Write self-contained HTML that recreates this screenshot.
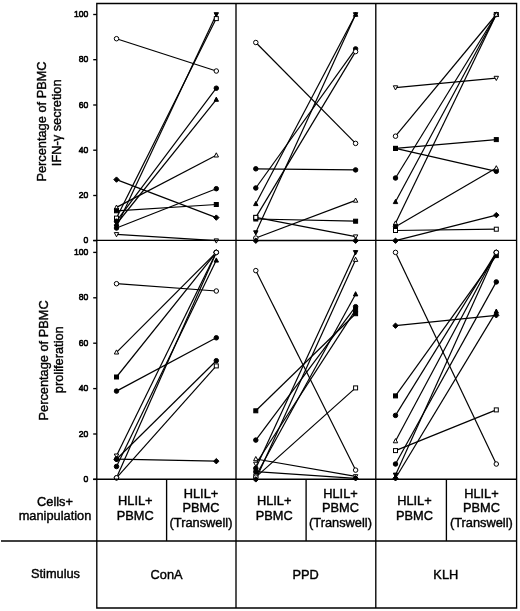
<!DOCTYPE html>
<html><head><meta charset="utf-8"><style>
html,body{margin:0;padding:0;background:#fff;width:520px;height:611px;overflow:hidden;font-family:"Liberation Sans",sans-serif;}
svg{display:block;will-change:transform;}
</style></head><body>
<svg width="520" height="611" viewBox="0 0 520 611">
<rect width="520" height="611" fill="white"/>
<g>
<g fill="none" stroke="black" stroke-width="1.2"><line x1="116.5" y1="38.7" x2="216.3" y2="71.0"/><line x1="116.5" y1="179.6" x2="216.3" y2="217.6"/><line x1="116.5" y1="207.4" x2="216.3" y2="155.2"/><line x1="116.5" y1="210.8" x2="216.3" y2="204.5"/><line x1="116.5" y1="218.1" x2="216.3" y2="18.6"/><line x1="116.5" y1="221.2" x2="216.3" y2="88.2"/><line x1="116.5" y1="224.0" x2="216.3" y2="99.6"/><line x1="116.5" y1="226.7" x2="216.3" y2="14.5"/><line x1="116.5" y1="228.0" x2="216.3" y2="188.7"/><line x1="116.5" y1="234.4" x2="216.3" y2="240.7"/><line x1="255.8" y1="42.5" x2="355.6" y2="143.4"/><line x1="255.8" y1="168.8" x2="355.6" y2="169.9"/><line x1="255.8" y1="188.0" x2="355.6" y2="48.9"/><line x1="255.8" y1="203.8" x2="355.6" y2="14.5"/><line x1="255.8" y1="217.4" x2="355.6" y2="51.6"/><line x1="255.8" y1="219.0" x2="355.6" y2="221.2"/><line x1="255.8" y1="217.4" x2="355.6" y2="236.6"/><line x1="255.8" y1="232.6" x2="355.6" y2="14.5"/><line x1="255.8" y1="238.0" x2="355.6" y2="200.4"/><line x1="255.8" y1="240.7" x2="355.6" y2="240.7"/><line x1="395.5" y1="87.6" x2="496.3" y2="78.1"/><line x1="395.5" y1="136.2" x2="496.3" y2="14.5"/><line x1="395.5" y1="148.4" x2="496.3" y2="139.6"/><line x1="395.5" y1="148.4" x2="496.3" y2="171.3"/><line x1="395.5" y1="178.0" x2="496.3" y2="14.5"/><line x1="395.5" y1="201.8" x2="496.3" y2="14.5"/><line x1="395.5" y1="223.3" x2="496.3" y2="14.5"/><line x1="395.5" y1="226.7" x2="496.3" y2="168.1"/><line x1="395.5" y1="230.5" x2="496.3" y2="229.2"/><line x1="395.5" y1="240.7" x2="496.3" y2="215.1"/><line x1="116.5" y1="283.7" x2="216.3" y2="291.0"/><line x1="116.5" y1="352.3" x2="216.3" y2="252.4"/><line x1="116.5" y1="377.0" x2="216.3" y2="252.4"/><line x1="116.5" y1="391.1" x2="216.3" y2="337.8"/><line x1="116.5" y1="455.8" x2="216.3" y2="252.4"/><line x1="116.5" y1="459.2" x2="216.3" y2="461.2"/><line x1="116.5" y1="459.2" x2="216.3" y2="360.7"/><line x1="116.5" y1="466.5" x2="216.3" y2="260.3"/><line x1="116.5" y1="477.8" x2="216.3" y2="252.4"/><line x1="116.5" y1="477.8" x2="216.3" y2="365.9"/><line x1="255.8" y1="270.6" x2="355.6" y2="470.1"/><line x1="255.8" y1="410.8" x2="355.6" y2="313.7"/><line x1="255.8" y1="440.1" x2="355.6" y2="306.7"/><line x1="255.8" y1="459.0" x2="355.6" y2="476.4"/><line x1="255.8" y1="464.0" x2="355.6" y2="309.8"/><line x1="255.8" y1="468.3" x2="355.6" y2="252.4"/><line x1="255.8" y1="471.7" x2="355.6" y2="478.3"/><line x1="255.8" y1="476.0" x2="355.6" y2="294.2"/><line x1="255.8" y1="477.1" x2="355.6" y2="387.9"/><line x1="255.8" y1="479.4" x2="355.6" y2="259.7"/><line x1="395.5" y1="252.4" x2="496.3" y2="464.0"/><line x1="395.5" y1="325.7" x2="496.3" y2="315.3"/><line x1="395.5" y1="395.9" x2="496.3" y2="255.6"/><line x1="395.5" y1="415.4" x2="496.3" y2="252.4"/><line x1="395.5" y1="441.0" x2="496.3" y2="252.4"/><line x1="395.5" y1="450.6" x2="496.3" y2="409.9"/><line x1="395.5" y1="464.0" x2="496.3" y2="281.9"/><line x1="395.5" y1="474.9" x2="496.3" y2="252.4"/><line x1="395.5" y1="478.3" x2="496.3" y2="311.4"/></g>
<g><circle cx="116.5" cy="38.7" r="2.25" fill="white" stroke="black" stroke-width="1.0"/><circle cx="216.3" cy="71.0" r="2.25" fill="white" stroke="black" stroke-width="1.0"/><path d="M116.5,176.9L119.2,179.6L116.5,182.3L113.8,179.6Z" fill="black" stroke="black" stroke-width="1.0"/><path d="M216.3,214.9L219.0,217.6L216.3,220.3L213.6,217.6Z" fill="black" stroke="black" stroke-width="1.0"/><path d="M116.5,205.0L118.7,209.2L114.3,209.2Z" fill="white" stroke="black" stroke-width="1.0"/><path d="M216.3,152.8L218.5,157.0L214.1,157.0Z" fill="white" stroke="black" stroke-width="1.0"/><rect x="114.5" y="208.8" width="4.0" height="4.0" fill="black" stroke="black" stroke-width="1.0"/><rect x="214.3" y="202.5" width="4.0" height="4.0" fill="black" stroke="black" stroke-width="1.0"/><rect x="114.5" y="216.1" width="4.0" height="4.0" fill="white" stroke="black" stroke-width="1.0"/><rect x="214.3" y="16.6" width="4.0" height="4.0" fill="white" stroke="black" stroke-width="1.0"/><circle cx="116.5" cy="221.2" r="2.25" fill="black" stroke="black" stroke-width="1.0"/><circle cx="216.3" cy="88.2" r="2.25" fill="black" stroke="black" stroke-width="1.0"/><path d="M116.5,221.5L118.7,225.7L114.3,225.7Z" fill="black" stroke="black" stroke-width="1.0"/><path d="M216.3,97.1L218.5,101.3L214.1,101.3Z" fill="black" stroke="black" stroke-width="1.0"/><path d="M116.5,229.1L118.7,224.9L114.3,224.9Z" fill="black" stroke="black" stroke-width="1.0"/><path d="M216.3,16.9L218.5,12.7L214.1,12.7Z" fill="black" stroke="black" stroke-width="1.0"/><circle cx="116.5" cy="228.0" r="2.25" fill="black" stroke="black" stroke-width="1.0"/><circle cx="216.3" cy="188.7" r="2.25" fill="black" stroke="black" stroke-width="1.0"/><path d="M116.5,236.8L118.7,232.6L114.3,232.6Z" fill="white" stroke="black" stroke-width="1.0"/><path d="M216.3,243.1L218.5,238.9L214.1,238.9Z" fill="white" stroke="black" stroke-width="1.0"/><circle cx="255.8" cy="42.5" r="2.25" fill="white" stroke="black" stroke-width="1.0"/><circle cx="355.6" cy="143.4" r="2.25" fill="white" stroke="black" stroke-width="1.0"/><circle cx="255.8" cy="168.8" r="2.25" fill="black" stroke="black" stroke-width="1.0"/><circle cx="355.6" cy="169.9" r="2.25" fill="black" stroke="black" stroke-width="1.0"/><circle cx="255.8" cy="188.0" r="2.25" fill="black" stroke="black" stroke-width="1.0"/><circle cx="355.6" cy="48.9" r="2.25" fill="black" stroke="black" stroke-width="1.0"/><path d="M255.8,201.4L258.0,205.6L253.6,205.6Z" fill="black" stroke="black" stroke-width="1.0"/><path d="M355.6,12.1L357.8,16.3L353.4,16.3Z" fill="black" stroke="black" stroke-width="1.0"/><rect x="253.8" y="215.4" width="4.0" height="4.0" fill="white" stroke="black" stroke-width="1.0"/><circle cx="355.6" cy="51.6" r="2.25" fill="white" stroke="black" stroke-width="1.0"/><rect x="253.8" y="217.0" width="4.0" height="4.0" fill="black" stroke="black" stroke-width="1.0"/><rect x="353.6" y="219.2" width="4.0" height="4.0" fill="black" stroke="black" stroke-width="1.0"/><rect x="253.8" y="215.4" width="4.0" height="4.0" fill="white" stroke="black" stroke-width="1.0"/><path d="M355.6,239.0L357.8,234.9L353.4,234.9Z" fill="white" stroke="black" stroke-width="1.0"/><path d="M255.8,235.0L258.0,230.8L253.6,230.8Z" fill="black" stroke="black" stroke-width="1.0"/><path d="M355.6,16.9L357.8,12.7L353.4,12.7Z" fill="black" stroke="black" stroke-width="1.0"/><circle cx="255.8" cy="238.0" r="2.25" fill="white" stroke="black" stroke-width="1.0"/><path d="M355.6,198.0L357.8,202.2L353.4,202.2Z" fill="white" stroke="black" stroke-width="1.0"/><path d="M255.8,238.0L258.5,240.7L255.8,243.4L253.1,240.7Z" fill="black" stroke="black" stroke-width="1.0"/><path d="M355.6,238.0L358.3,240.7L355.6,243.4L352.9,240.7Z" fill="black" stroke="black" stroke-width="1.0"/><path d="M395.5,90.0L397.7,85.8L393.3,85.8Z" fill="white" stroke="black" stroke-width="1.0"/><path d="M496.3,80.5L498.5,76.3L494.1,76.3Z" fill="white" stroke="black" stroke-width="1.0"/><circle cx="395.5" cy="136.2" r="2.25" fill="white" stroke="black" stroke-width="1.0"/><circle cx="496.3" cy="14.5" r="2.25" fill="white" stroke="black" stroke-width="1.0"/><rect x="393.5" y="146.4" width="4.0" height="4.0" fill="black" stroke="black" stroke-width="1.0"/><rect x="494.3" y="137.6" width="4.0" height="4.0" fill="black" stroke="black" stroke-width="1.0"/><rect x="393.5" y="146.4" width="4.0" height="4.0" fill="black" stroke="black" stroke-width="1.0"/><circle cx="496.3" cy="171.3" r="2.25" fill="black" stroke="black" stroke-width="1.0"/><circle cx="395.5" cy="178.0" r="2.25" fill="black" stroke="black" stroke-width="1.0"/><rect x="494.3" y="12.5" width="4.0" height="4.0" fill="white" stroke="black" stroke-width="1.0"/><path d="M395.5,199.4L397.7,203.6L393.3,203.6Z" fill="black" stroke="black" stroke-width="1.0"/><path d="M496.3,12.1L498.5,16.3L494.1,16.3Z" fill="black" stroke="black" stroke-width="1.0"/><path d="M395.5,220.9L397.7,225.0L393.3,225.0Z" fill="white" stroke="black" stroke-width="1.0"/><path d="M496.3,12.1L498.5,16.3L494.1,16.3Z" fill="white" stroke="black" stroke-width="1.0"/><circle cx="395.5" cy="226.7" r="2.25" fill="black" stroke="black" stroke-width="1.0"/><path d="M496.3,165.7L498.5,169.8L494.1,169.8Z" fill="white" stroke="black" stroke-width="1.0"/><rect x="393.5" y="228.5" width="4.0" height="4.0" fill="white" stroke="black" stroke-width="1.0"/><rect x="494.3" y="227.2" width="4.0" height="4.0" fill="white" stroke="black" stroke-width="1.0"/><path d="M395.5,238.0L398.2,240.7L395.5,243.4L392.8,240.7Z" fill="black" stroke="black" stroke-width="1.0"/><path d="M496.3,212.4L499.0,215.1L496.3,217.8L493.6,215.1Z" fill="black" stroke="black" stroke-width="1.0"/><circle cx="116.5" cy="283.7" r="2.25" fill="white" stroke="black" stroke-width="1.0"/><circle cx="216.3" cy="291.0" r="2.25" fill="white" stroke="black" stroke-width="1.0"/><path d="M116.5,349.9L118.7,354.0L114.3,354.0Z" fill="white" stroke="black" stroke-width="1.0"/><circle cx="216.3" cy="252.4" r="2.25" fill="white" stroke="black" stroke-width="1.0"/><rect x="114.5" y="375.0" width="4.0" height="4.0" fill="black" stroke="black" stroke-width="1.0"/><circle cx="216.3" cy="252.4" r="2.25" fill="white" stroke="black" stroke-width="1.0"/><circle cx="116.5" cy="391.1" r="2.25" fill="black" stroke="black" stroke-width="1.0"/><circle cx="216.3" cy="337.8" r="2.25" fill="black" stroke="black" stroke-width="1.0"/><path d="M116.5,458.2L118.7,454.0L114.3,454.0Z" fill="white" stroke="black" stroke-width="1.0"/><circle cx="216.3" cy="252.4" r="2.25" fill="white" stroke="black" stroke-width="1.0"/><path d="M116.5,456.5L119.2,459.2L116.5,461.9L113.8,459.2Z" fill="black" stroke="black" stroke-width="1.0"/><path d="M216.3,458.5L219.0,461.2L216.3,463.9L213.6,461.2Z" fill="black" stroke="black" stroke-width="1.0"/><circle cx="116.5" cy="459.2" r="2.25" fill="black" stroke="black" stroke-width="1.0"/><circle cx="216.3" cy="360.7" r="2.25" fill="black" stroke="black" stroke-width="1.0"/><circle cx="116.5" cy="466.5" r="2.25" fill="black" stroke="black" stroke-width="1.0"/><path d="M216.3,257.9L218.5,262.1L214.1,262.1Z" fill="black" stroke="black" stroke-width="1.0"/><circle cx="116.5" cy="477.8" r="2.25" fill="white" stroke="black" stroke-width="1.0"/><circle cx="216.3" cy="252.4" r="2.25" fill="white" stroke="black" stroke-width="1.0"/><circle cx="116.5" cy="477.8" r="2.25" fill="white" stroke="black" stroke-width="1.0"/><rect x="214.3" y="363.9" width="4.0" height="4.0" fill="white" stroke="black" stroke-width="1.0"/><circle cx="255.8" cy="270.6" r="2.25" fill="white" stroke="black" stroke-width="1.0"/><circle cx="355.6" cy="470.1" r="2.25" fill="white" stroke="black" stroke-width="1.0"/><rect x="253.8" y="408.8" width="4.0" height="4.0" fill="black" stroke="black" stroke-width="1.0"/><rect x="353.6" y="311.7" width="4.0" height="4.0" fill="black" stroke="black" stroke-width="1.0"/><circle cx="255.8" cy="440.1" r="2.25" fill="black" stroke="black" stroke-width="1.0"/><circle cx="355.6" cy="306.7" r="2.25" fill="black" stroke="black" stroke-width="1.0"/><path d="M255.8,456.5L258.0,460.7L253.6,460.7Z" fill="white" stroke="black" stroke-width="1.0"/><path d="M355.6,478.9L357.8,474.7L353.4,474.7Z" fill="white" stroke="black" stroke-width="1.0"/><path d="M255.8,466.4L258.0,462.2L253.6,462.2Z" fill="white" stroke="black" stroke-width="1.0"/><rect x="353.6" y="307.8" width="4.0" height="4.0" fill="black" stroke="black" stroke-width="1.0"/><circle cx="255.8" cy="468.3" r="2.25" fill="black" stroke="black" stroke-width="1.0"/><path d="M355.6,254.8L357.8,250.6L353.4,250.6Z" fill="black" stroke="black" stroke-width="1.0"/><circle cx="255.8" cy="471.7" r="2.25" fill="black" stroke="black" stroke-width="1.0"/><path d="M355.6,475.6L358.3,478.3L355.6,481.0L352.9,478.3Z" fill="black" stroke="black" stroke-width="1.0"/><rect x="253.8" y="474.0" width="4.0" height="4.0" fill="white" stroke="black" stroke-width="1.0"/><path d="M355.6,291.7L357.8,295.9L353.4,295.9Z" fill="black" stroke="black" stroke-width="1.0"/><circle cx="255.8" cy="477.1" r="2.25" fill="white" stroke="black" stroke-width="1.0"/><rect x="353.6" y="385.9" width="4.0" height="4.0" fill="white" stroke="black" stroke-width="1.0"/><path d="M255.8,476.7L258.5,479.4L255.8,482.1L253.1,479.4Z" fill="black" stroke="black" stroke-width="1.0"/><path d="M355.6,257.2L357.8,261.4L353.4,261.4Z" fill="white" stroke="black" stroke-width="1.0"/><circle cx="395.5" cy="252.4" r="2.25" fill="white" stroke="black" stroke-width="1.0"/><circle cx="496.3" cy="464.0" r="2.25" fill="white" stroke="black" stroke-width="1.0"/><path d="M395.5,323.0L398.2,325.7L395.5,328.4L392.8,325.7Z" fill="black" stroke="black" stroke-width="1.0"/><path d="M496.3,312.6L499.0,315.3L496.3,318.0L493.6,315.3Z" fill="black" stroke="black" stroke-width="1.0"/><rect x="393.5" y="393.9" width="4.0" height="4.0" fill="black" stroke="black" stroke-width="1.0"/><rect x="494.3" y="253.6" width="4.0" height="4.0" fill="black" stroke="black" stroke-width="1.0"/><circle cx="395.5" cy="415.4" r="2.25" fill="black" stroke="black" stroke-width="1.0"/><circle cx="496.3" cy="252.4" r="2.25" fill="white" stroke="black" stroke-width="1.0"/><path d="M395.5,438.6L397.7,442.8L393.3,442.8Z" fill="white" stroke="black" stroke-width="1.0"/><circle cx="496.3" cy="252.4" r="2.25" fill="white" stroke="black" stroke-width="1.0"/><rect x="393.5" y="448.6" width="4.0" height="4.0" fill="white" stroke="black" stroke-width="1.0"/><rect x="494.3" y="407.9" width="4.0" height="4.0" fill="white" stroke="black" stroke-width="1.0"/><circle cx="395.5" cy="464.0" r="2.25" fill="black" stroke="black" stroke-width="1.0"/><circle cx="496.3" cy="281.9" r="2.25" fill="black" stroke="black" stroke-width="1.0"/><path d="M395.5,477.3L397.7,473.1L393.3,473.1Z" fill="black" stroke="black" stroke-width="1.0"/><circle cx="496.3" cy="252.4" r="2.25" fill="white" stroke="black" stroke-width="1.0"/><path d="M395.5,475.6L398.2,478.3L395.5,481.0L392.8,478.3Z" fill="black" stroke="black" stroke-width="1.0"/><path d="M496.3,309.0L498.5,313.2L494.1,313.2Z" fill="black" stroke="black" stroke-width="1.0"/></g>
<g><path d="M96.8,3.5H516.6V608.0H96.8Z" fill="none" stroke="black" stroke-width="1.35"/><line x1="236.0" y1="3.5" x2="236.0" y2="608.0" stroke="black" stroke-width="1.35"/><line x1="375.8" y1="3.5" x2="375.8" y2="608.0" stroke="black" stroke-width="1.35"/><line x1="93.2" y1="240.4" x2="516.6" y2="240.4" stroke="black" stroke-width="1.35"/><line x1="93.2" y1="479.2" x2="516.6" y2="479.2" stroke="black" stroke-width="1.35"/><line x1="1" y1="541" x2="516.6" y2="541" stroke="black" stroke-width="1.35"/><line x1="166.6" y1="479.2" x2="166.6" y2="541" stroke="black" stroke-width="1.35"/><line x1="306.1" y1="479.2" x2="306.1" y2="541" stroke="black" stroke-width="1.35"/><line x1="446.4" y1="479.2" x2="446.4" y2="541" stroke="black" stroke-width="1.35"/></g>
<g stroke="black" stroke-width="1.35"><line x1="93.2" y1="240.7" x2="96.8" y2="240.7"/><line x1="93.2" y1="479.4" x2="96.8" y2="479.4"/><line x1="93.2" y1="195.5" x2="96.8" y2="195.5"/><line x1="93.2" y1="434.0" x2="96.8" y2="434.0"/><line x1="93.2" y1="150.2" x2="96.8" y2="150.2"/><line x1="93.2" y1="388.6" x2="96.8" y2="388.6"/><line x1="93.2" y1="105.0" x2="96.8" y2="105.0"/><line x1="93.2" y1="343.2" x2="96.8" y2="343.2"/><line x1="93.2" y1="59.7" x2="96.8" y2="59.7"/><line x1="93.2" y1="297.8" x2="96.8" y2="297.8"/><line x1="93.2" y1="14.5" x2="96.8" y2="14.5"/><line x1="93.2" y1="252.4" x2="96.8" y2="252.4"/></g>
<g font-family="Liberation Sans, sans-serif" font-size="9.2" text-anchor="end" fill="#000" stroke="#000" stroke-width="0.6"><text transform="translate(88.4,243.3) scale(0.94,1.05)">0</text><text transform="translate(88.4,482.0) scale(0.94,1.05)">0</text><text transform="translate(88.4,198.1) scale(0.94,1.05)">20</text><text transform="translate(88.4,436.6) scale(0.94,1.05)">20</text><text transform="translate(88.4,152.8) scale(0.94,1.05)">40</text><text transform="translate(88.4,391.2) scale(0.94,1.05)">40</text><text transform="translate(88.4,107.6) scale(0.94,1.05)">60</text><text transform="translate(88.4,345.8) scale(0.94,1.05)">60</text><text transform="translate(88.4,62.3) scale(0.94,1.05)">80</text><text transform="translate(88.4,300.4) scale(0.94,1.05)">80</text><text transform="translate(88.4,17.1) scale(0.94,1.05)">100</text><text transform="translate(88.4,255.0) scale(0.94,1.05)">100</text></g>
<g font-family="Liberation Sans, sans-serif" fill="#000" stroke="#000" stroke-width="0.4"><text x="135.3" y="505.3" text-anchor="middle" font-size="12.8">HLIL+</text><text x="135.3" y="519.7" text-anchor="middle" font-size="12.8">PBMC</text><text x="201.0" y="497.7" text-anchor="middle" font-size="12.8">HLIL+</text><text x="201.0" y="512.4" text-anchor="middle" font-size="12.8">PBMC</text><text x="201.0" y="527.0" text-anchor="middle" font-size="12.8">(Transwell)</text><text x="274.2" y="505.3" text-anchor="middle" font-size="12.8">HLIL+</text><text x="274.2" y="519.7" text-anchor="middle" font-size="12.8">PBMC</text><text x="340.5" y="497.7" text-anchor="middle" font-size="12.8">HLIL+</text><text x="340.5" y="512.4" text-anchor="middle" font-size="12.8">PBMC</text><text x="340.5" y="527.0" text-anchor="middle" font-size="12.8">(Transwell)</text><text x="414.4" y="505.3" text-anchor="middle" font-size="12.8">HLIL+</text><text x="414.4" y="519.7" text-anchor="middle" font-size="12.8">PBMC</text><text x="481.4" y="497.7" text-anchor="middle" font-size="12.8">HLIL+</text><text x="481.4" y="512.4" text-anchor="middle" font-size="12.8">PBMC</text><text x="481.4" y="527.0" text-anchor="middle" font-size="12.8">(Transwell)</text><text x="55" y="505.9" text-anchor="middle" font-size="12.8">Cells+</text><text x="55" y="519.9" text-anchor="middle" font-size="12.8">manipulation</text><text x="55.5" y="577.5" text-anchor="middle" font-size="12.8">Stimulus</text><text x="166.6" y="578.9" text-anchor="middle" font-size="12.8">ConA</text><text x="305.7" y="578.9" text-anchor="middle" font-size="12.8">PPD</text><text x="445.8" y="578.9" text-anchor="middle" font-size="12.8">KLH</text><text transform="translate(45.9,121.5) rotate(-90)" text-anchor="middle" font-size="12.8">Percentage of PBMC</text><text transform="translate(61.4,122.8) rotate(-90)" text-anchor="middle" font-size="12.8">IFN-&#947; secretion</text><text transform="translate(47.5,360.4) rotate(-90)" text-anchor="middle" font-size="12.8">Percentage of PBMC</text><text transform="translate(62.7,359.7) rotate(-90)" text-anchor="middle" font-size="12.8">proliferation</text></g>
</g>
</svg>
</body></html>
